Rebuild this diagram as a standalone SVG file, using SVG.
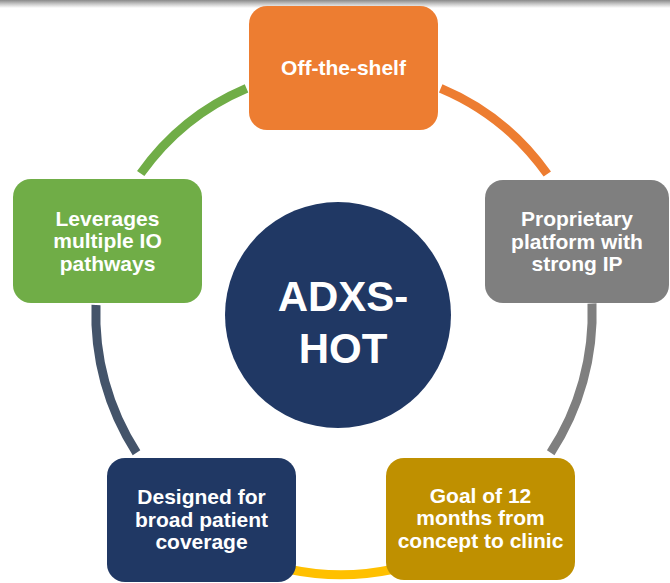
<svg xmlns="http://www.w3.org/2000/svg" width="670" height="583" viewBox="0 0 670 583">
  <defs>
    <linearGradient id="topShade" x1="0" y1="0" x2="0" y2="1">
      <stop offset="0" stop-color="#8a8a8a"/>
      <stop offset="0.5" stop-color="#c8c8c8"/>
      <stop offset="1" stop-color="#ffffff"/>
    </linearGradient>
  </defs>
  <style>
    .arc { fill: none; stroke-width: 9; stroke-linecap: butt; }
    .box { stroke: none; }
    .label { font-family: "Liberation Sans", Arial, Helvetica, sans-serif; font-weight: bold; font-size: 21px; fill: #ffffff; text-anchor: middle; }
    .hub { font-family: "Liberation Sans", Arial, Helvetica, sans-serif; font-weight: bold; font-size: 42px; fill: #ffffff; text-anchor: middle; }
  </style>

  <rect x="0" y="0" width="670" height="583" fill="#ffffff"/>
  <rect x="0" y="0" width="670" height="8" fill="url(#topShade)"/>

  <!-- ring segments between the boxes -->
  <g id="connectors">
    <path class="arc" stroke="#70AD47" d="M140.7,173.5 A248,251.5 0 0 1 246.5,88.3"/>
    <path class="arc" stroke="#ED7D31" d="M440.7,88.3 A248,251.5 0 0 1 547.3,174"/>
    <path class="arc" stroke="#7F7F7F" d="M592,303.5 A248,251.5 0 0 1 550.7,452.7"/>
    <path class="arc" stroke="#FFC000" d="M392,569.5 A250,250 0 0 1 290,569.5"/>
    <path class="arc" stroke="#44546A" d="M136.5,452.7 A248,251.5 0 0 1 96,305"/>
  </g>

  <g id="hub">
    <circle cx="338" cy="315" r="113" fill="#203864"/>
    <text class="hub" x="343" y="311">ADXS-</text>
    <text class="hub" x="343" y="363">HOT</text>
  </g>

  <g id="off-the-shelf">
    <rect class="box" x="249" y="6" width="189" height="124" rx="18" fill="#ED7D31"/>
    <text class="label" x="343.5" y="75">Off-the-shelf</text>
  </g>

  <g id="proprietary-platform">
    <rect class="box" x="485" y="180" width="184" height="123" rx="18" fill="#7F7F7F"/>
    <text class="label" x="577" y="226">Proprietary</text>
    <text class="label" x="577" y="248.5">platform with</text>
    <text class="label" x="577" y="271">strong IP</text>
  </g>

  <g id="goal-12-months">
    <rect class="box" x="386" y="458" width="189" height="122" rx="18" fill="#BF9000"/>
    <text class="label" x="480.5" y="502.5">Goal of 12</text>
    <text class="label" x="480.5" y="525">months from</text>
    <text class="label" x="480.5" y="547.5">concept to clinic</text>
  </g>

  <g id="broad-coverage">
    <rect class="box" x="107" y="458" width="189" height="124" rx="18" fill="#203864"/>
    <text class="label" x="201.5" y="504">Designed for</text>
    <text class="label" x="201.5" y="526.5">broad patient</text>
    <text class="label" x="201.5" y="549">coverage</text>
  </g>

  <g id="io-pathways">
    <rect class="box" x="13" y="179" width="189" height="124" rx="18" fill="#70AD47"/>
    <text class="label" x="107.5" y="225.5">Leverages</text>
    <text class="label" x="107.5" y="248">multiple IO</text>
    <text class="label" x="107.5" y="270.5">pathways</text>
  </g>
</svg>
